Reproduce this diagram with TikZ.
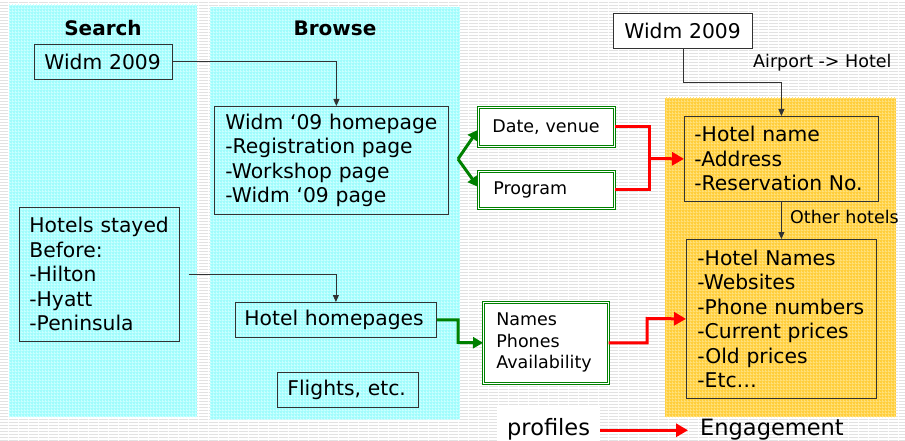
\documentclass[tikz,border=0pt]{standalone}
\usepackage{fontspec}
\setmainfont{DejaVu Sans}
\usetikzlibrary{arrows.meta,patterns}

% keep every label line whole
\hyphenpenalty=10000
\exhyphenpenalty=10000

% fine textures: striped page, gridded panels
\pgfdeclarepatternformonly{hstripes}{\pgfpointorigin}{\pgfqpoint{10pt}{3pt}}{\pgfqpoint{10pt}{3pt}}%
  {\pgfpathrectangle{\pgfpointorigin}{\pgfqpoint{10pt}{1pt}}\pgfusepath{fill}}
\pgfdeclarepatternformonly{cellgrid}{\pgfpointorigin}{\pgfqpoint{3pt}{3pt}}{\pgfqpoint{3pt}{3pt}}%
  {\pgfpathrectangle{\pgfpointorigin}{\pgfqpoint{3pt}{1pt}}%
   \pgfpathrectangle{\pgfpointorigin}{\pgfqpoint{1pt}{3pt}}\pgfusepath{fill}}

\definecolor{stripe}{RGB}{226,226,226}
\definecolor{panelcyan}{RGB}{160,252,252}
\definecolor{cyanline}{RGB}{200,255,255}
\definecolor{panelorange}{RGB}{255,206,60}
\definecolor{orangeline}{RGB}{255,224,120}
\definecolor{boxline}{RGB}{50,50,50}
\definecolor{flowgreen}{RGB}{0,128,0}
\definecolor{flowred}{RGB}{255,0,0}

\tikzset{
  bigfont/.style={font=\fontsize{20.3}{24.5}\selectfont},
  smallfont/.style={font=\fontsize{17.5}{21.5}\selectfont},
  legendfont/.style={font=\fontsize{22.5}{26}\selectfont},
  infobox/.style={draw=boxline, line width=0.8pt, anchor=north west, align=left,
    inner ysep=0pt, bigfont},
  greenbox/.style={draw=flowgreen, double=white, double distance=1.6pt, line width=0.7pt,
    fill=white, anchor=north west, align=left, inner ysep=0pt, smallfont},
  paneltitle/.style={font=\fontsize{20}{24}\selectfont\bfseries},
  note/.style={smallfont, anchor=west, inner sep=0pt},
  conn/.style={draw=boxline, line width=0.8pt, -{Triangle[length=7pt,width=6pt]}},
  garrow/.style={draw=flowgreen, line width=3pt, -{Triangle[length=10pt,width=11pt]}},
  rarrow/.style={draw=flowred, line width=3pt, -{Triangle[length=12pt,width=13pt]}},
  rline/.style={draw=flowred, line width=3pt, line join=miter},
}

\begin{document}
\begin{tikzpicture}[x=1pt,y=-1pt]
\useasboundingbox (0,0) rectangle (905,441);

% page background
\fill[white] (0,0) rectangle (905,441);
\fill[pattern=hstripes, pattern color=stripe] (0,0) rectangle (905,441);

% panels
\fill[panelcyan] (9,5) rectangle (197,417);
\fill[pattern=cellgrid, pattern color=cyanline] (9,5) rectangle (197,417);
\fill[panelcyan] (210,7) rectangle (460,419);
\fill[pattern=cellgrid, pattern color=cyanline] (210,7) rectangle (460,419);
\fill[panelorange] (665,98) rectangle (896,417);
\fill[pattern=cellgrid, pattern color=orangeline] (665,98) rectangle (896,417);

\node[paneltitle] (tsearch) at (103,28) {Search};
\node[paneltitle] (tbrowse) at (335,28) {Browse};

% search column
\node[infobox, inner xsep=10pt, text width=118pt, minimum height=35pt]
  (swidm) at (34,44) {Widm 2009};
\node[infobox, inner xsep=10pt, text width=140pt, minimum height=134pt]
  (shotels) at (19,207) {Hotels stayed\\Before:\\-Hilton\\-Hyatt\\-Peninsula};

% browse column
\node[infobox, inner xsep=11pt, text width=212pt, minimum height=108pt]
  (bhome) at (214,106) {Widm ‘09 homepage\\-Registration page\\-Workshop page\\-Widm ‘09 page};
\node[infobox, inner xsep=9pt, text width=183pt, minimum height=35pt]
  (bhotel) at (235,302) {Hotel homepages};
\node[infobox, inner xsep=10pt, text width=121pt, minimum height=35pt]
  (bflights) at (277,372) {Flights, etc.};

% extracted pieces
\node[greenbox, inner xsep=14pt, text width=108pt, minimum height=39pt]
  (gdate) at (478,107) {Date, venue};
\node[greenbox, inner xsep=15pt, text width=106pt, minimum height=37pt]
  (gprog) at (478,171) {Program};
\node[greenbox, inner xsep=13pt, text width=99pt, minimum height=81pt]
  (gnames) at (483,302) {Names\\Phones\\Availability};

% engagement column
\node[infobox, fill=white, inner xsep=11pt, text width=117pt, minimum height=35pt]
  (rwidm) at (613,13) {Widm 2009};
\node[infobox, inner xsep=10pt, text width=174pt, minimum height=85pt]
  (rhotel) at (684,116) {-Hotel name\\-Address\\-Reservation No.};
\node[infobox, inner xsep=11pt, text width=168pt, minimum height=159pt]
  (rnames) at (686,239) {-Hotel Names\\-Websites\\-Phone numbers\\-Current prices\\-Old prices\\-Etc…};

\node[note] (lairport) at (753,63) {Airport -> Hotel};
\node[note] (lother) at (790,217) {Other hotels};

% legend
\node[legendfont, fill=white, anchor=base west, inner xsep=10pt, inner ysep=0pt,
  text height=28pt, text depth=8pt] (prof) at (497,435) {profiles};
\node[legendfont, anchor=base west, inner xsep=12pt, inner ysep=0pt]
  (eng) at (688,435) {Engagement};

% junction points
\coordinate (gsplit) at (458,159);
\coordinate (gturn) at (458,342.5);
\coordinate (rjoin) at (649,158.5);
\coordinate (rturn) at (647,318.5);

% thin links
\draw[conn] (swidm.east) -| ([xshift=5pt]bhome.north);
\draw[conn] ([xshift=9pt]shotels.east) -| (bhotel.north);
\draw[conn] (rwidm.south) -- ++(0,34) -| (rhotel.north);
\draw[conn] (rhotel.south) -- (rnames.north);

% green links
\draw[garrow] (gsplit) -- ([yshift=-3pt]gdate.west);
\draw[garrow] (gsplit) -- ([yshift=3pt]gprog.west);
\draw[garrow] (bhotel.east) -| (gturn) -- (gnames.west);

% red links
\draw[rline] (gdate.east) -| (rjoin) |- (gprog.east);
\draw[rarrow] (rjoin) -- (rhotel.west);
\draw[rarrow] (gnames.east) -| (rturn) -- (rnames.west);
\draw[rarrow] ([yshift=2pt]prof.east |- eng.mid west) -- ([yshift=2pt]eng.mid west);
\end{tikzpicture}
\end{document}
